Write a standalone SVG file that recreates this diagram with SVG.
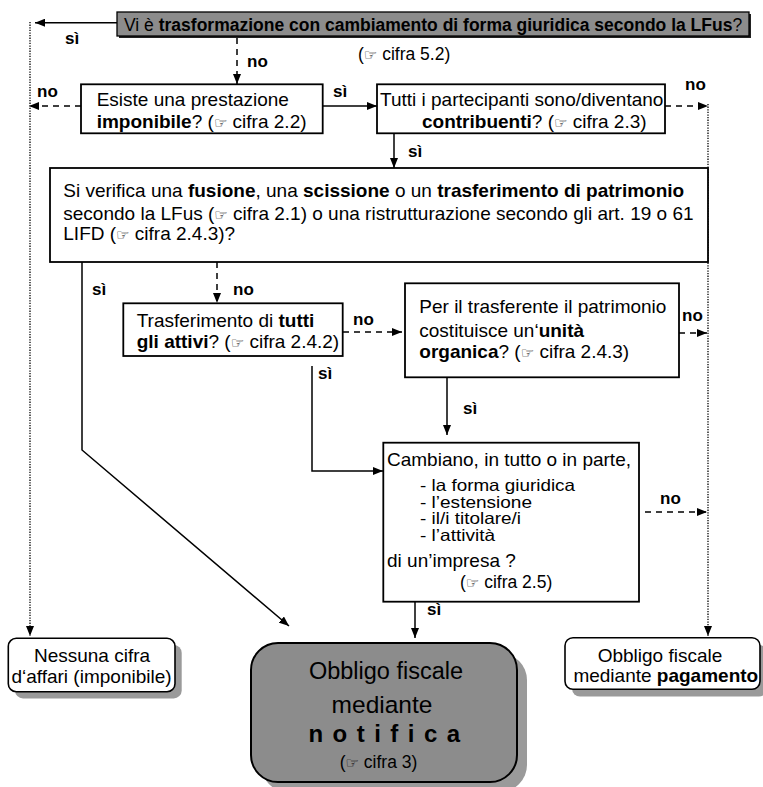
<svg xmlns="http://www.w3.org/2000/svg" width="763" height="787" viewBox="0 0 763 787">
<defs>
<marker id="ah" markerWidth="10" markerHeight="8" refX="10" refY="4" orient="auto" markerUnits="userSpaceOnUse"><path d="M0,0 L10,4 L0,8 z" fill="#000"/></marker>
</defs>
<style>
text{font-family:"Liberation Sans",Arial,sans-serif;fill:#000}
.t{font-size:19px}
.li{font-size:16.5px}
.s{font-size:17.5px}
.lb{font-size:17px;font-weight:bold}
.b{font-weight:bold}
.h{font-family:"DejaVu Sans",sans-serif;font-size:15px;font-weight:normal}
.box{fill:#fff;stroke:#000;stroke-width:1.8}
.rbox{fill:#fff;stroke:#000;stroke-width:1.6}
.sol{fill:none;stroke:#000;stroke-width:1.5}
.dash{fill:none;stroke:#000;stroke-width:1.5;stroke-dasharray:6 5}
.dot{fill:none;stroke:#000;stroke-width:1.3;stroke-dasharray:1.3 1.3}
.sh{fill:#9a9a9a}
.m{text-anchor:middle}
</style>
<rect width="763" height="787" fill="#fff"/>
<g id="connectors">
<path class="sol" d="M117,22.7 H35" marker-end="url(#ah)"/>
<path class="dot" d="M30,22 V636" marker-end="url(#ah)"/>
<path class="dash" d="M237,38 V84" marker-end="url(#ah)"/>
<path class="dash" d="M81,106 H29" marker-end="url(#ah)"/>
<path class="sol" d="M323,106 H377" marker-end="url(#ah)"/>
<path class="dash" d="M665,106 H708" marker-end="url(#ah)"/>
<path class="sol" d="M394,133 V168" marker-end="url(#ah)"/>
<path class="dot" d="M708,104 V636" marker-end="url(#ah)"/>
<path class="dash" d="M217,262 V303" marker-end="url(#ah)"/>
<path class="sol" d="M82,262 V450 L289,626" marker-end="url(#ah)"/>
<path class="dash" d="M343,332 H402" marker-end="url(#ah)"/>
<path class="sol" d="M312,366 V471 H383" marker-end="url(#ah)"/>
<path class="dash" d="M679,333 H707" marker-end="url(#ah)"/>
<path class="sol" d="M447,377 V435" marker-end="url(#ah)"/>
<path class="dash" d="M645,512 H707" marker-end="url(#ah)"/>
<path class="sol" d="M415,598 V638" marker-end="url(#ah)"/>
<text class="lb" x="65" y="43.5">sì</text>
<text class="lb" x="247" y="66.5">no</text>
<text class="lb" x="37" y="96.5">no</text>
<text class="lb" x="333" y="96.5">sì</text>
<text class="lb" x="685" y="90">no</text>
<text class="lb" x="408" y="156.5">sì</text>
<text class="lb" x="92" y="295">sì</text>
<text class="lb" x="233" y="295">no</text>
<text class="lb" x="353" y="325">no</text>
<text class="lb" x="318" y="378.5">sì</text>
<text class="lb" x="682" y="320.5">no</text>
<text class="lb" x="463" y="413.5">sì</text>
<text class="lb" x="660" y="503.5">no</text>
<text class="lb" x="427" y="615">sì</text>
</g>
<g id="n-trasformazione">
<rect x="119" y="14" width="632" height="24" fill="#222"/>
<rect x="117" y="12" width="632" height="24" fill="#8c8c8c" stroke="#000" stroke-width="1.3"/>
<text class="s" x="124" y="30.5">Vi è <tspan class="b">trasformazione con cambiamento di forma giuridica secondo la LFus</tspan>?</text>
<text class="s" x="358" y="59.5">(<tspan class="h">☞</tspan> cifra 5.2)</text>
</g>
<g id="n-imponibile">
<rect class="box" x="81" y="84.3" width="241.7" height="49"/>
<text class="t" x="96.7" y="106">Esiste una prestazione</text>
<text class="t" x="96.7" y="128"><tspan class="b">imponibile</tspan>? (<tspan class="h">☞</tspan> cifra 2.2)</text>
</g>
<g id="n-contribuenti">
<rect class="box" x="377" y="84.3" width="288" height="49"/>
<text class="t" x="380" y="106">Tutti i partecipanti sono/diventano</text>
<text class="t" x="422" y="128"><tspan class="b">contribuenti</tspan>? (<tspan class="h">☞</tspan> cifra 2.3)</text>
</g>
<g id="n-fusione">
<rect class="box" x="50" y="168" width="658" height="94"/>
<text class="t" x="63.3" y="197.3">Si verifica una <tspan class="b">fusione</tspan>, una <tspan class="b">scissione</tspan> o un <tspan class="b">trasferimento di patrimonio</tspan></text>
<text class="t" x="63.3" y="219.5">secondo la LFus  (<tspan class="h">☞</tspan> cifra 2.1) o una ristrutturazione secondo gli art. 19 o 61</text>
<text class="t" x="63.3" y="239.5">LIFD (<tspan class="h">☞</tspan> cifra 2.4.3)?</text>
</g>
<g id="n-attivi">
<rect class="box" x="123.3" y="303.3" width="219.4" height="52.7"/>
<text class="t" x="136.7" y="326.7">Trasferimento di <tspan class="b">tutti</tspan></text>
<text class="t" x="136.7" y="348.3"><tspan class="b">gli attivi</tspan>? (<tspan class="h">☞</tspan> cifra 2.4.2)</text>
</g>
<g id="n-unita">
<rect class="box" x="405" y="283.3" width="274" height="94"/>
<text class="t" x="419.3" y="313.3">Per il trasferente il patrimonio</text>
<text class="t" x="419.3" y="336.7">costituisce un‘<tspan class="b">unità</tspan></text>
<text class="t" x="419.3" y="358.3"><tspan class="b">organica</tspan>? (<tspan class="h">☞</tspan> cifra 2.4.3)</text>
</g>
<g id="n-cambiano">
<rect class="box" x="383.3" y="442.7" width="255.7" height="159"/>
<text class="t" x="387" y="466">Cambiano, in tutto o in parte,</text>
<text class="li" x="420" y="491" textLength="155" lengthAdjust="spacingAndGlyphs">- la forma giuridica</text>
<text class="li" x="420" y="507.5" textLength="112" lengthAdjust="spacingAndGlyphs">- l’estensione</text>
<text class="li" x="420" y="524" textLength="101" lengthAdjust="spacingAndGlyphs">- il/i titolare/i</text>
<text class="li" x="420" y="540.5" textLength="75" lengthAdjust="spacingAndGlyphs">- l’attività</text>
<text class="t" x="387" y="566.7">di un’impresa ?</text>
<text class="s" x="460" y="588.3">(<tspan class="h">☞</tspan> cifra 2.5)</text>
</g>
<g id="n-nessuna">
<rect class="sh" x="15" y="645" width="166.7" height="53.4" rx="8"/>
<rect class="rbox" x="8.3" y="638.3" width="166.7" height="53.4" rx="8"/>
<text class="t m" x="92" y="661.7">Nessuna cifra</text>
<text class="t m" x="91.5" y="682.7">d‘affari (imponibile)</text>
</g>
<g id="n-notifica">
<rect class="sh" x="261" y="653" width="266" height="139" rx="27"/>
<rect x="251" y="643" width="266" height="139" rx="27" fill="#8c8c8c" stroke="#000" stroke-width="2"/>
<text class="m" x="386" y="679.3" font-size="23.5">Obbligo fiscale</text>
<text class="m" x="382" y="712.7" font-size="24.5">mediante</text>
<text class="m b" x="385" y="741.7" font-size="24" letter-spacing="1.4">n o t i f i c a</text>
<text class="s m" x="378.5" y="768.3">(<tspan class="h">☞</tspan> cifra 3)</text>
</g>
<g id="n-pagamento">
<rect class="sh" x="572" y="645" width="195" height="51.6" rx="8"/>
<rect class="rbox" x="565" y="637.7" width="195" height="51.6" rx="8"/>
<text class="t m" x="660" y="661.7">Obbligo fiscale</text>
<text class="t m" x="665.8" y="681.7">mediante <tspan class="b">pagamento</tspan></text>
</g>
</svg>
